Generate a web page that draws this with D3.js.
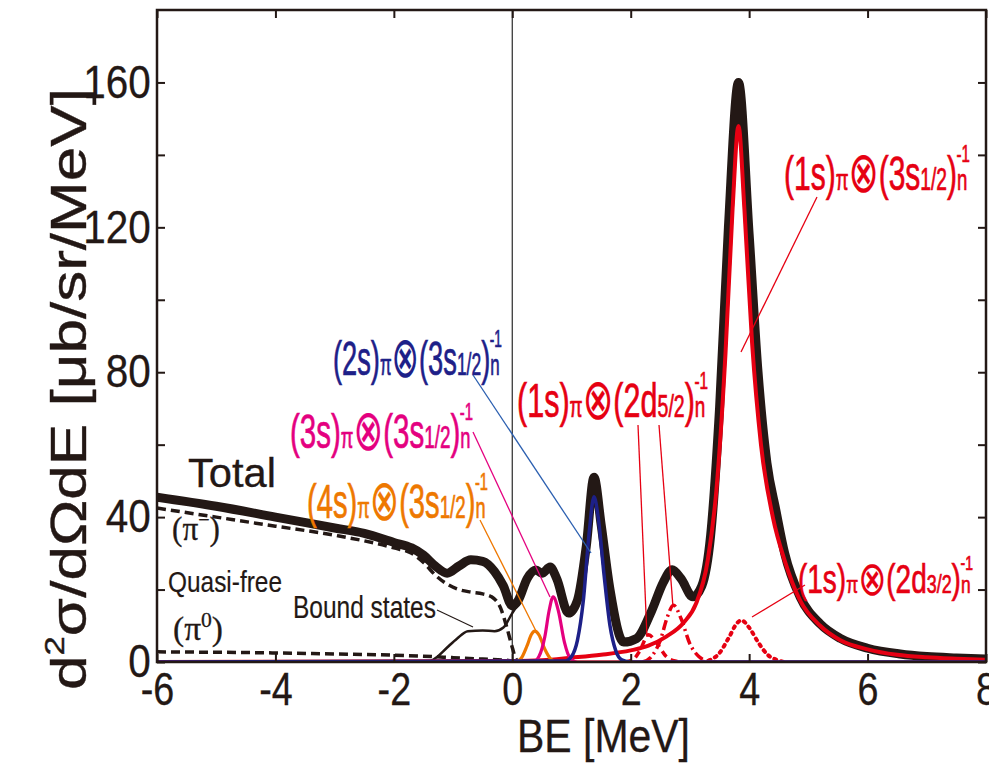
<!DOCTYPE html>
<html><head><meta charset="utf-8">
<script src="https://cdn.jsdelivr.net/npm/d3@7"></script>
<style>body{margin:0;background:#fff}svg{display:block}</style>
</head><body>
<svg id="chart" width="989" height="767"></svg>
<script>
// ---------------- data ----------------
const xTicks = [-6, -4, -2, 0, 2, 4, 6, 8];
const yTicks = [0, 40, 80, 120, 160];
const yMinorTicks = [20, 60, 100, 140];
const xTickLabels = ["-6", "-4", "-2", "0", "2", "4", "6", "8"];
const yTickLabels = ["0", "40", "80", "120", "160"];

const total = [[-6,45.5],[-5,43],[-4,40],[-3,37],[-2.5,35.5],[-2,33],[-1.7,31.5],[-1.5,29.5],[-1.3,26.5],[-1.1,24.5],[-0.9,26.5],[-0.7,28.2],[-0.5,27.8],[-0.3,25],[-0.15,21],[0,15.5],[0.1,17],[0.25,23],[0.4,25.4],[0.5,24.5],[0.64,26.2],[0.75,23],[0.95,13.5],[1.1,17],[1.25,32],[1.38,51],[1.5,38],[1.65,20],[1.88,5.5],[2.1,6.5],[2.35,14],[2.55,22],[2.7,25.5],[2.85,23],[3.05,18],[3.2,21],[3.35,35],[3.5,70],[3.65,120],[3.82,160],[4.0,118],[4.15,80],[4.3,55],[4.45,42],[4.6,30],[4.86,18],[5.2,10.5],[5.54,6.5],[6.0,3.8],[6.55,2.2],[7.0,1.5],[7.5,1.1],[8.0,0.8]];
const quasiPiMinus = [[-6,42.5],[-5,40],[-4,37.5],[-3,35],[-2,31.5],[-1.7,30],[-1.5,27.5],[-1.3,24],[-1.1,21.5],[-0.9,20],[-0.7,19.3],[-0.5,18.8],[-0.35,18],[-0.2,15],[-0.1,10],[0,4],[0.05,1.2],[0.1,0]];
const quasiPiZero = [[-6,2.8],[-4,2.5],[-3,2.2],[-2,1.9],[-1.5,1.6],[-1,1.2],[-0.5,0.8],[0,0.3],[0.1,0]];
const boundStates = [[-1.4,0],[-1.27,1.4],[-1.1,4],[-0.93,6.5],[-0.75,8.5],[-0.5,8.7],[-0.3,8.5],[-0.15,9.5],[0,13.5],[0.1,16]];
const s4 = [[-6,0],[0.05,0],[0.15,1],[0.25,4.5],[0.32,7.5],[0.38,8.5],[0.45,7.5],[0.55,3.5],[0.65,0.8],[0.75,0],[8,0]];
const s3 = [[-6,0],[0.35,0],[0.45,1.5],[0.55,7],[0.62,14],[0.69,18],[0.78,14],[0.88,5.5],[0.98,1],[1.1,0],[8,0]];
const s2 = [[-6,0],[0.9,0.3],[1.0,1.5],[1.1,6],[1.2,17],[1.3,36],[1.38,45.6],[1.45,40],[1.55,24],[1.65,10],[1.75,3],[1.85,0.6],[2.0,0],[8,0]];
const s1_3s = [[-6,0],[0,0.3],[0.5,0.5],[1.0,1.2],[1.5,2],[2.0,3.2],[2.3,4.5],[2.6,7],[2.9,11],[3.1,16],[3.3,28],[3.45,48],[3.6,85],[3.72,125],[3.82,148],[3.92,125],[4.05,88],[4.2,60],[4.4,40],[4.6,28],[4.86,17],[5.2,10],[5.54,6],[6.0,3.5],[6.5,2],[7,1.3],[7.5,0.9],[8,0.6]];
const s1_2d52a = [[1.9,0],[2.05,0.8],[2.15,3],[2.3,7.5],[2.45,5],[2.6,1.5],[2.75,0.3],[2.9,0]];
const s1_2d52b = [[2.2,0],[2.35,1.5],[2.5,6],[2.62,12.5],[2.72,15.7],[2.85,12],[3.0,5],[3.15,1.5],[3.3,0.3],[3.45,0]];
const s1_2d32 = [[3.2,0],[3.3,0.3],[3.5,2.5],[3.65,6.5],[3.8,10.8],[3.87,11.5],[4.0,9.5],[4.15,5.5],[4.3,2.2],[4.5,0.4],[4.6,0]];

// ---------------- setup ----------------
const FONT = "'Liberation Sans', Arial, sans-serif";
const SERIF = "'Liberation Serif', 'Times New Roman', serif";
const INK = "#231815";
const RED = "#e60012", BLUE = "#1d2088", MAG = "#e4007f", ORG = "#ee7800";
const svg = d3.select("#chart");
const x = d3.scaleLinear().domain([-6, 8]).range([157, 986]);
const y = d3.scaleLinear().domain([0, 180]).range([662, 10]);

svg.append("clipPath").attr("id", "clip").append("rect")
  .attr("x", x(-6)).attr("y", y(180)).attr("width", x(8) - x(-6)).attr("height", y(0) - y(180));

// vertical line at BE = 0
svg.append("line").attr("x1", x(0)).attr("x2", x(0)).attr("y1", y(180)).attr("y2", y(0))
  .attr("stroke", "#3a3a3a").attr("stroke-width", 1.3);

const line = d3.line().x(d => x(d[0])).y(d => y(d[1])).curve(d3.curveMonotoneX);
const plot = svg.append("g").attr("clip-path", "url(#clip)");
function draw(data, color, width, dash, cap) {
  plot.append("path").attr("d", line(data)).attr("fill", "none")
    .attr("stroke", color).attr("stroke-width", width)
    .attr("stroke-dasharray", dash || null)
    .attr("stroke-linecap", cap || "butt").attr("stroke-linejoin", "round");
}
draw(total, INK, 9, null, "round");
draw(quasiPiMinus, INK, 3.5, "9,5");
draw(quasiPiZero, INK, 3.5, "9,5");
draw(boundStates, INK, 2.5);
draw(s1_2d52a, RED, 3.5, "7,5");
draw(s1_2d52b, RED, 3.5, "10,4,2,4");
draw(s1_2d32, RED, 4, "2,5", "round");
draw(s1_3s, RED, 4);
draw(s4, ORG, 3.2);
draw(s3, MAG, 3.2);
draw(s2, BLUE, 3.5);

// ---------------- frame & axes ----------------
svg.append("rect").attr("x", x(-6)).attr("y", y(180)).attr("width", x(8) - x(-6)).attr("height", y(0) - y(180))
  .attr("fill", "none").attr("stroke", INK).attr("stroke-width", 2.5);

const axB = svg.append("g").attr("transform", `translate(0,${y(0)})`)
  .call(d3.axisBottom(x).tickValues(xTicks).tickSize(-8).tickPadding(10).tickFormat((d, i) => xTickLabels[i]));
const axT = svg.append("g").attr("transform", `translate(0,${y(180)})`)
  .call(d3.axisTop(x).tickValues(xTicks).tickSize(-8).tickFormat(""));
const axL = svg.append("g").attr("transform", `translate(${x(-6)},0)`)
  .call(d3.axisLeft(y).tickValues(yTicks).tickSize(-8).tickPadding(7).tickFormat((d, i) => yTickLabels[i]));
const axL2 = svg.append("g").attr("transform", `translate(${x(-6)},0)`)
  .call(d3.axisLeft(y).tickValues(yMinorTicks).tickSize(-8).tickFormat(""));
const axR = svg.append("g").attr("transform", `translate(${x(8)},0)`)
  .call(d3.axisRight(y).tickValues(yTicks.concat(yMinorTicks)).tickSize(-8).tickFormat(""));
[axB, axT, axL, axL2, axR].forEach(a => {
  a.select(".domain").remove();
  a.selectAll(".tick line").attr("stroke", INK).attr("stroke-width", 2);
  a.selectAll("text").attr("fill", INK).attr("stroke", INK).attr("stroke-width", 0.3)
    .style("font-family", FONT).style("font-size", "46px");
});
axB.selectAll("text").attr("transform", "scale(0.82,1)").attr("dy", "0.71em");
axL.selectAll("text").attr("transform", "scale(0.88,1)");

// ---------------- text helpers ----------------
function rich(xp, yp, parts, color, targetW, family, sw) {
  const g = svg.append("g");
  const t = g.append("text").attr("fill", color).attr("stroke", color)
    .attr("stroke-width", sw == null ? 0.5 : sw).style("font-family", family || FONT);
  parts.forEach(p => {
    const ts = t.append("tspan").attr("font-size", p.s).text(p.t);
    if (p.dx) ts.attr("dx", p.dx);
    if (p.dy) ts.attr("dy", p.dy);
    if (p.f) ts.style("font-family", p.f);
    if (p.w != null) ts.attr("stroke-width", p.w);
  });
  const bb = t.node().getBBox();
  const k = targetW ? targetW / bb.width : 1;
  g.attr("transform", `translate(${xp},${yp}) scale(${k},1) translate(${-bb.x},0)`);
  return g;
}
function stateLabel(xp, yp, a, b, sub, color, F, targetW) {
  return rich(xp, yp, [
    {t: a, s: F},
    {t: "π", s: F * 0.62},
    {t: "⊗", s: F * 1.2, f: "'DejaVu Sans', sans-serif", w: 0.2, dy: F * 0.04},
    {t: b, s: F, dy: -F * 0.04},
    {t: sub, s: F * 0.64},
    {t: ")", s: F},
    {t: "n", s: F * 0.62},
    {t: "-1", s: F * 0.5, dx: -F * 0.36, dy: -F * 0.58}
  ], color, targetW, FONT, 0.7);
}

// state labels
stateLabel(333, 375, "(2s)", "(3s", "1/2", BLUE, 48, 169);
stateLabel(290, 448, "(3s)", "(3s", "1/2", MAG, 48, 183);
stateLabel(307, 518, "(4s)", "(3s", "1/2", ORG, 48, 181);
stateLabel(517, 417, "(1s)", "(2d", "5/2", RED, 48, 191);
stateLabel(784, 190, "(1s)", "(3s", "1/2", RED, 48, 186);
stateLabel(798, 593, "(1s)", "(2d", "3/2", RED, 40, 175);

// leader lines
function leader(x1, y1, x2, y2, color, w) {
  svg.append("line").attr("x1", x1).attr("y1", y1).attr("x2", x2).attr("y2", y2)
    .attr("stroke", color).attr("stroke-width", w || 1.3);
}
leader(473, 375, 591, 553, "#2b5fb0");
leader(473, 432, 550, 597, MAG);
leader(480, 520, 537, 633, ORG);
leader(638, 425, 647, 637, RED);
leader(659, 425, 673, 607, RED);
leader(817, 197, 741, 352, RED);
leader(805, 585, 752, 617, RED);
leader(437, 610, 473, 627, INK, 1.1);

// plain labels
rich(188, 487, [{t: "Total", s: 40}], INK, 88, FONT, 0.3);
rich(172, 540, [{t: "(π", s: 34}, {t: "−", s: 22, dy: -13}, {t: ")", s: 34, dy: 13}], INK, 48, SERIF, 0.3);
rich(168, 592, [{t: "Quasi-free", s: 30}], INK, 114, FONT, 0.2);
rich(173, 640, [{t: "(π", s: 34}, {t: "0", s: 22, dy: -13}, {t: ")", s: 34, dy: 13}], INK, 50, SERIF, 0.3);
rich(293, 618, [{t: "Bound states", s: 31}], INK, 143, FONT, 0.2);

// axis titles
rich(517, 752, [{t: "BE [MeV]", s: 46}], INK, 173, FONT, 0.3);
{
  const g = svg.append("g").attr("transform", `translate(86,389) rotate(-90)`);
  const t = g.append("text").attr("fill", INK).attr("stroke", INK).attr("stroke-width", 0.4).style("font-family", FONT);
  t.append("tspan").attr("font-size", 50).text("d");
  t.append("tspan").attr("font-size", 28).attr("dy", -22).text("2");
  t.append("tspan").attr("font-size", 50).attr("dy", 22).text("σ/dΩdE [μb/sr/MeV]");
  const bb = t.node().getBBox();
  const k = 602 / bb.width;
  t.attr("transform", `scale(${k},1) translate(${-bb.x - bb.width / 2},0)`);
}
</script>
</body></html>
